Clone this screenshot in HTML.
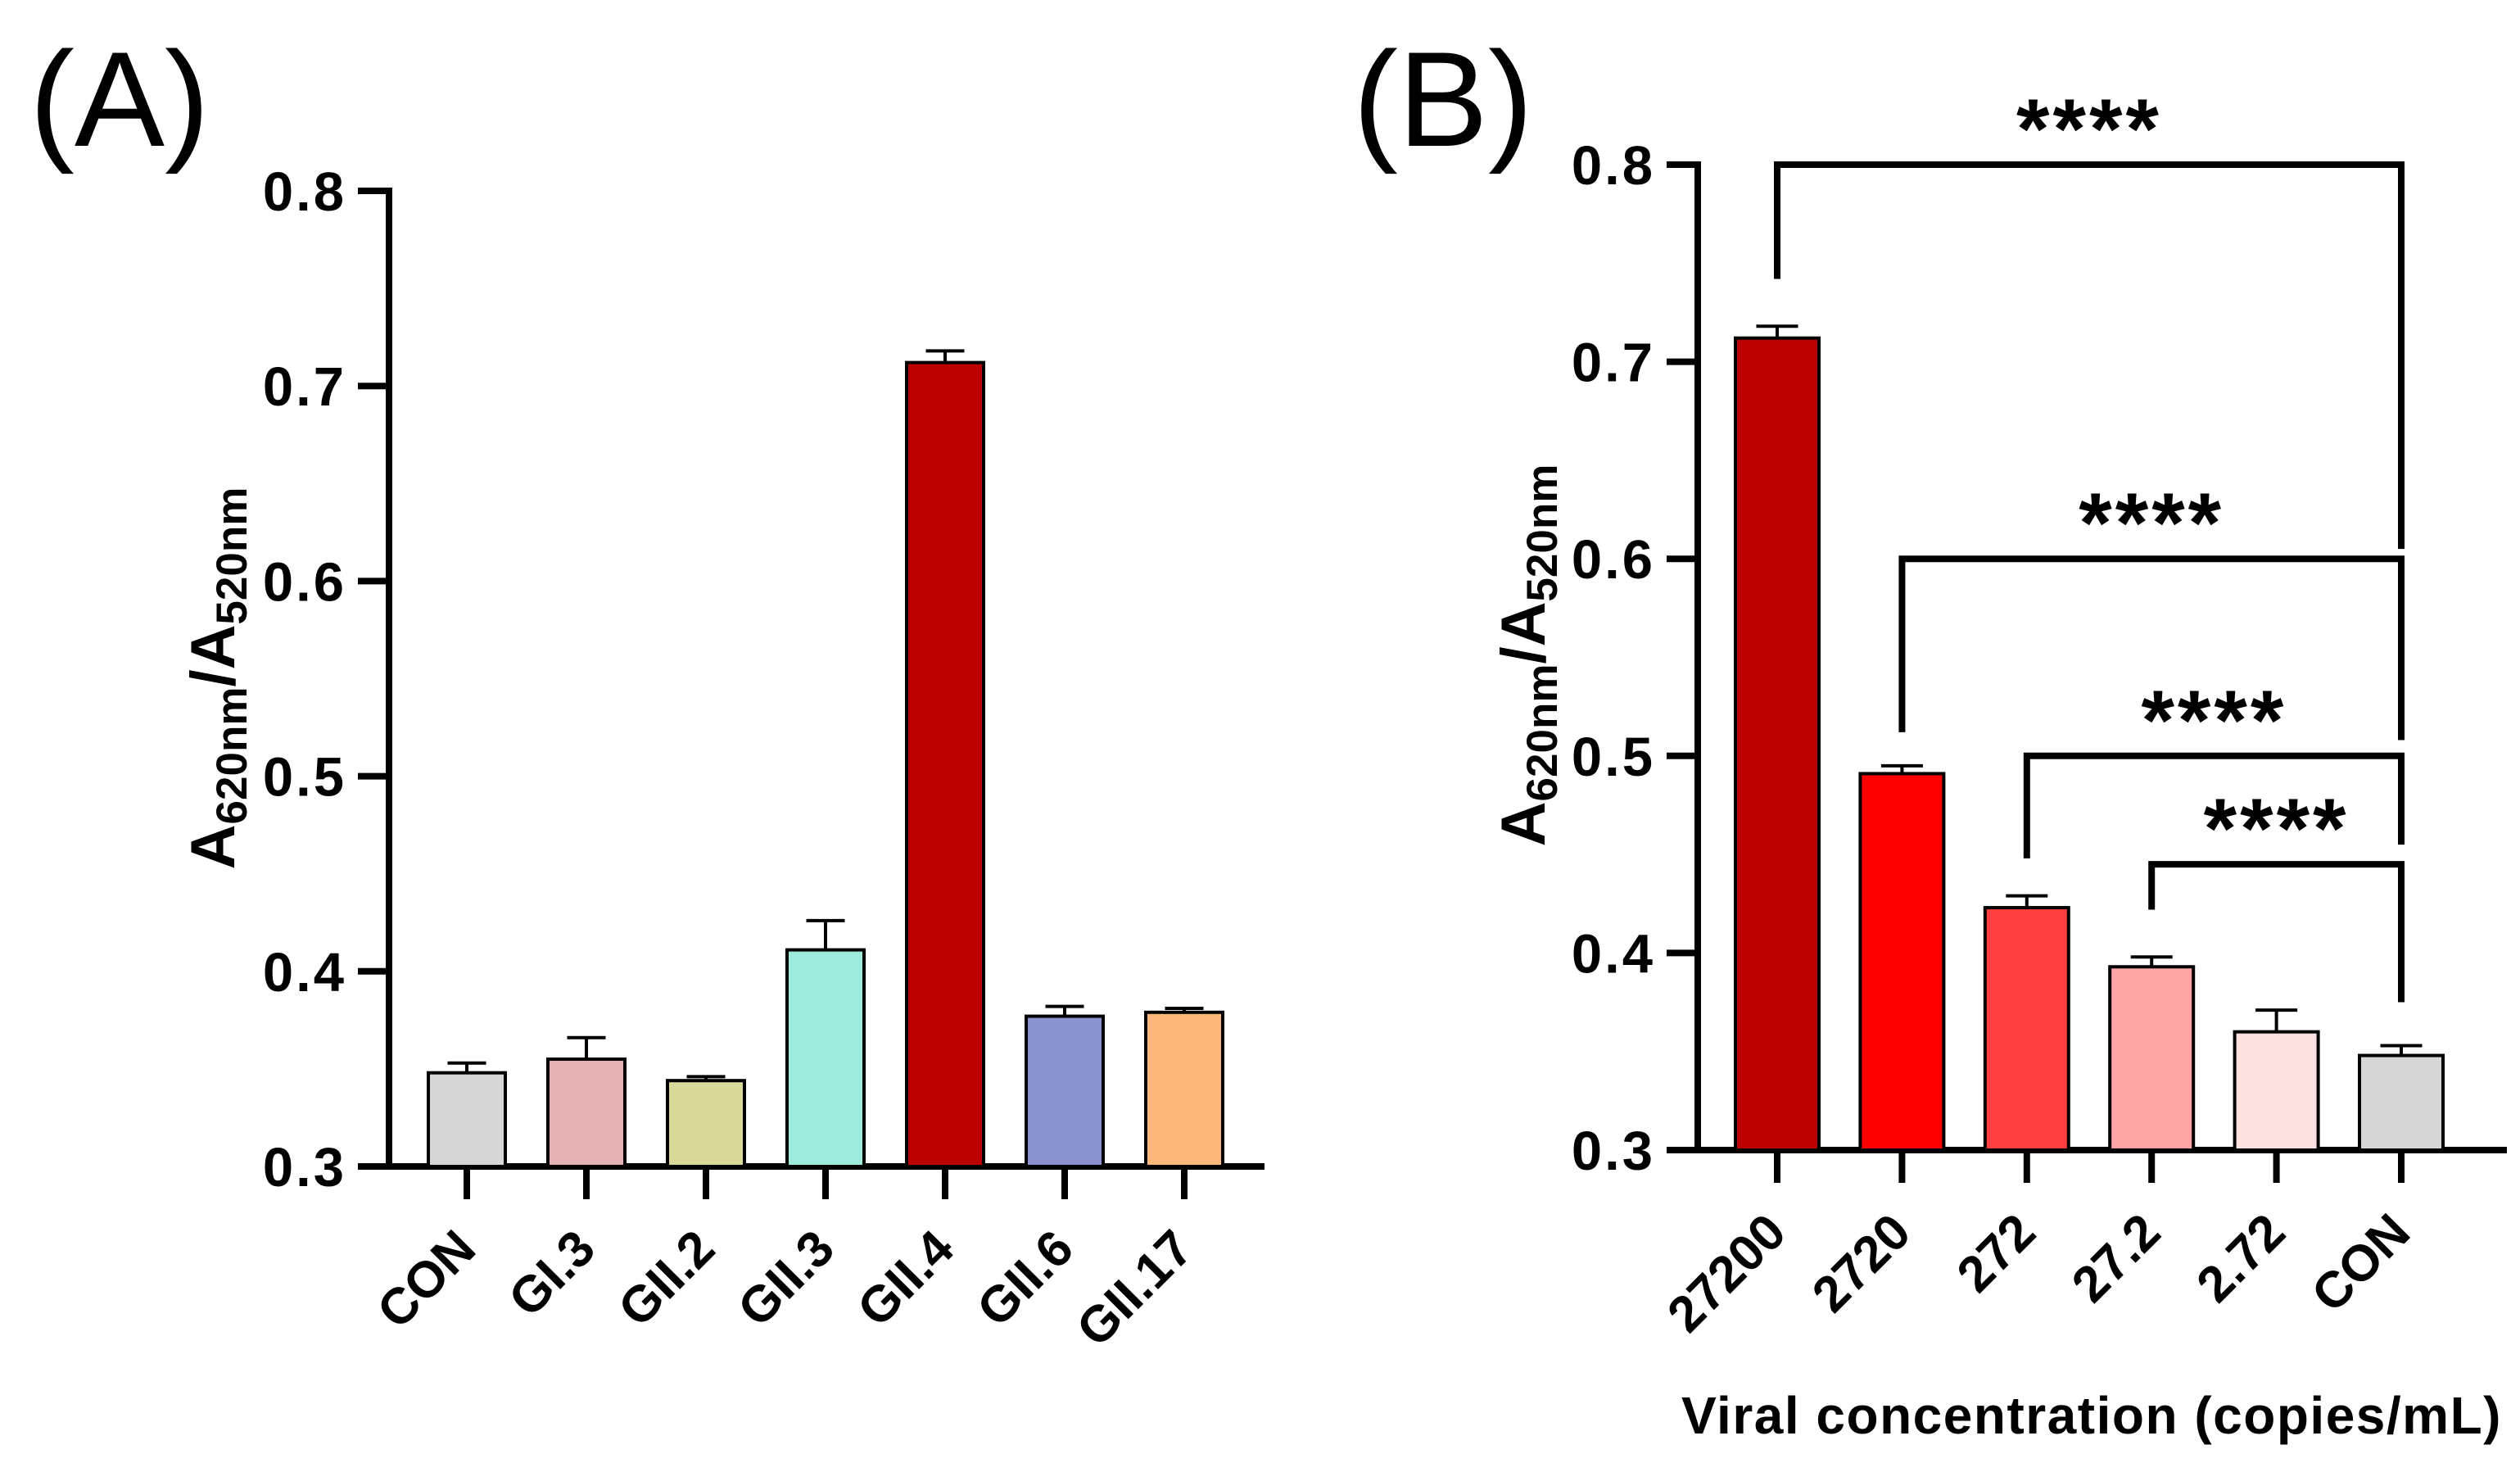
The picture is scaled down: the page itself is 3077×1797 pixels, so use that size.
<!DOCTYPE html>
<html><head><meta charset="utf-8"><style>
html,body{margin:0;padding:0;background:#fff;}
svg{display:block;font-family:"Liberation Sans",Arial,sans-serif;font-weight:bold;}
</style></head><body>
<svg id="fig" width="3077" height="1797" viewBox="0 0 3077 1797" xmlns="http://www.w3.org/2000/svg">
<text x="36" y="178" font-size="165" font-weight="normal">(A)</text>
<text x="1652" y="178" font-size="165" font-weight="normal">(B)</text>
<text transform="translate(286,828) rotate(-90)" text-anchor="middle" font-size="76">A<tspan font-size="53" dy="15">620nm</tspan><tspan dy="-15">/A</tspan><tspan font-size="53" dy="15">520nm</tspan></text>
<text transform="translate(1886,800) rotate(-90)" text-anchor="middle" font-size="76">A<tspan font-size="53" dy="15">620nm</tspan><tspan dy="-15">/A</tspan><tspan font-size="53" dy="15">520nm</tspan></text>
<text x="2554" y="1750" text-anchor="middle" font-size="64" letter-spacing="1.5">Viral concentration (copies/mL)</text>
<g id="ga"></g><g id="gb"></g>
</svg>
<script>
const catsA = ["CON","GI.3","GII.2","GII.3","GII.4","GII.6","GII.17"];
const valsA = [0.348,0.355,0.344,0.411,0.712,0.377,0.379];
const errA = [0.005,0.011,0.002,0.015,0.006,0.005,0.002];
const colsA = ["#d6d6d6","#e5b3b3","#d8d89a","#9eeadb","#bb0000","#8a92d0","#feb87c"];
const catsB = ["27200","2720","272","27.2","2.72","CON"];
const valsB = [0.712,0.491,0.423,0.393,0.360,0.348];
const errB = [0.006,0.004,0.006,0.005,0.011,0.005];
const colsB = ["#bb0000","#ff0000","#ff4040","#fda4a4","#fde0e0","#d6d6d6"];
const ticks = [0.3,0.4,0.5,0.6,0.7,0.8];
const tickLabels = ["0.3","0.4","0.5","0.6","0.7","0.8"];
const sigFrom = [0,1,2,3];
const sigTo = [5,5,5,5];
const sigLabels = ["****","****","****","****"];
const NS="http://www.w3.org/2000/svg";
function mk(p,t,a){const e=document.createElementNS(NS,t);for(const k in a)e.setAttribute(k,a[k]);p.appendChild(e);return e;}
function panel(g,cfg,cats,vals,errs,cols,pre){
  const y=v=>cfg.y0-(v-0.3)/0.5*(cfg.y0-cfg.y1);
  const x=i=>cfg.x0+i*cfg.step;
  let e;
  e=mk(g,'line',{x1:cfg.ax,y1:cfg.y1-4,x2:cfg.ax,y2:cfg.y0+4,stroke:'#000','stroke-width':8});
  
  
  e=mk(g,'line',{x1:cfg.ax-38,y1:cfg.y0,x2:cfg.xend,y2:cfg.y0,stroke:'#000','stroke-width':8});
  
  
  ticks.forEach((t,i)=>{
    e=mk(g,'line',{x1:cfg.ax-38,y1:y(t),x2:cfg.ax,y2:y(t),stroke:'#000','stroke-width':8});
    
    
    e=mk(g,'text',{x:cfg.ax-52,y:y(t)+24,'text-anchor':'end','font-size':67,'letter-spacing':3});
    e.textContent=tickLabels[i];
    
    
  });
  cats.forEach((c,i)=>{
    const cx=x(i),bw=cfg.bw;
    e=mk(g,'line',{x1:cx,y1:y(vals[i]),x2:cx,y2:y(vals[i]+errs[i]),stroke:'#000','stroke-width':4});
    
    
    e=mk(g,'line',{x1:cx-bw*0.25,y1:y(vals[i]+errs[i]),x2:cx+bw*0.25,y2:y(vals[i]+errs[i]),stroke:'#000','stroke-width':4});
    
    
    e=mk(g,'rect',{x:cx-bw/2,y:y(vals[i]),width:bw,height:cfg.y0-y(vals[i]),fill:cols[i],stroke:'#000','stroke-width':4});
    
    
    e=mk(g,'line',{x1:cx,y1:cfg.y0,x2:cx,y2:cfg.y0+40,stroke:'#000','stroke-width':8});
    
    
    e=mk(g,'text',{transform:`translate(${cx+14},${cfg.y0+104}) rotate(-45)`,'text-anchor':'end','font-size':62});
    e.textContent=c;
    
    
  });
  return {x,y};
}
const A=panel(document.getElementById('ga'),{ax:475,y0:1424,y1:233,x0:570,step:146,bw:94,xend:1544},catsA,valsA,errA,colsA,'panel-a');
const gb=document.getElementById('gb');
const B=panel(gb,{ax:2073,y0:1404,y1:201,x0:2170,step:152.4,bw:102,xend:3061},catsB,valsB,errB,colsB,'panel-b');
const brY=[0.8,0.6,0.5,0.445];
const leftEnd=[0.742,0.512,0.448,0.422];
const rightEnd=[0.605,0.508,0.455,0.375];
sigFrom.forEach((f,k)=>{
  const x1=B.x(f),x2=B.x(sigTo[k]),yy=B.y(brY[k]);
  let e=mk(gb,'path',{d:`M${x1},${B.y(leftEnd[k])}V${yy}H${x2}V${B.y(rightEnd[k])}`,fill:'none',stroke:'#000','stroke-width':8});
  
  
  e=mk(gb,'text',{x:(x1+x2)/2,y:yy-8,'text-anchor':'middle','font-size':104,'letter-spacing':4});
  e.textContent=sigLabels[k];
  
  
});
</script>
</body></html>
